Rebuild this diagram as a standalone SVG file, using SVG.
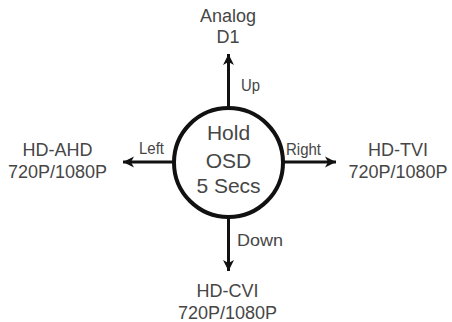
<svg xmlns="http://www.w3.org/2000/svg" width="452" height="322" viewBox="0 0 452 322">
<style>
text{font-family:"Liberation Sans",Arial,sans-serif;fill:#464646;text-anchor:middle}
.lbl{font-size:18px}
.dir{font-size:17px;text-anchor:start}
.ctr{font-size:21px}
.conn{stroke:#111;stroke-width:3;fill:none}
</style>
<defs>
<marker id="ah" viewBox="0 0 12 12" refX="11" refY="6" markerWidth="12" markerHeight="12" markerUnits="userSpaceOnUse" orient="auto">
<path d="M0,0.5 L11,6 L0,11.5 L3,6 Z" fill="#111"/>
</marker>
</defs>
<rect width="452" height="322" fill="#fff"/>
<g id="connectors">
<line class="conn" x1="228.5" y1="108" x2="228.5" y2="54" marker-end="url(#ah)"/>
<line class="conn" x1="228.5" y1="217" x2="228.5" y2="271" marker-end="url(#ah)"/>
<line class="conn" x1="174" y1="162" x2="123" y2="162" marker-end="url(#ah)"/>
<line class="conn" x1="283" y1="162" x2="336" y2="162" marker-end="url(#ah)"/>
<text class="dir" x="241" y="90.5" textLength="19" lengthAdjust="spacingAndGlyphs">Up</text>
<text class="dir" x="237" y="246" textLength="46" lengthAdjust="spacingAndGlyphs">Down</text>
<text class="dir" x="139" y="154" textLength="25" lengthAdjust="spacingAndGlyphs">Left</text>
<text class="dir" x="286" y="155" textLength="35" lengthAdjust="spacingAndGlyphs">Right</text>
</g>
<g id="center">
<circle cx="228.5" cy="162.5" r="54.5" fill="#fff" stroke="#111" stroke-width="4"/>
<text class="ctr" x="228.5" y="140">Hold</text>
<text class="ctr" x="228.5" y="167.5">OSD</text>
<text class="ctr" x="228.5" y="192.5">5 Secs</text>
</g>
<g id="analog">
<text class="lbl" x="228" y="22">Analog</text>
<text class="lbl" x="228" y="43">D1</text>
</g>
<g id="ahd">
<text class="lbl" x="57.5" y="156">HD-AHD</text>
<text class="lbl" x="57.5" y="178">720P/1080P</text>
</g>
<g id="tvi">
<text class="lbl" x="398" y="156">HD-TVI</text>
<text class="lbl" x="398" y="178">720P/1080P</text>
</g>
<g id="cvi">
<text class="lbl" x="227.5" y="297">HD-CVI</text>
<text class="lbl" x="227.5" y="319">720P/1080P</text>
</g>
</svg>
